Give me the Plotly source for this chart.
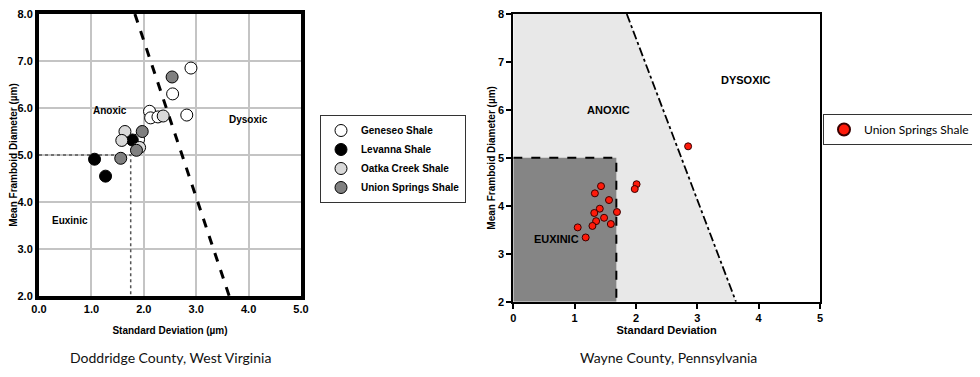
import plotly.graph_objects as go

# ---- Left chart data (Doddridge County, West Virginia) ----
geneseo_x = [2.90, 2.55, 2.11, 2.13, 2.27, 2.82, 1.90]
geneseo_y = [6.85, 6.30, 5.93, 5.79, 5.81, 5.85, 5.33]
levanna_x = [1.06, 1.27, 1.78]
levanna_y = [4.91, 4.55, 5.32]
oatka_x = [1.64, 1.58, 1.92, 2.37]
oatka_y = [5.50, 5.31, 5.16, 5.83]
union_l_x = [2.54, 1.97, 1.86, 1.56]
union_l_y = [6.66, 5.50, 5.10, 4.93]

# boundaries
boundary_x = [1.83, 3.63]
boundary_y = [8.0, 2.0]
euxinic_x = [1.75]
euxinic_y = [5.0]

# ---- Right chart data (Wayne County, Pennsylvania) ----
union_r_x = [2.85, 2.01, 1.98, 1.43, 1.33, 1.56, 1.41, 1.32, 1.69, 1.35, 1.48, 1.59, 1.29, 1.05, 1.18]
union_r_y = [5.24, 4.45, 4.35, 4.41, 4.26, 4.12, 3.94, 3.85, 3.87, 3.68, 3.75, 3.62, 3.58, 3.55, 3.34]
r_boundary_x = [1.85, 3.63]
r_boundary_y = [8.0, 2.0]
r_eux_x = 1.68
r_eux_y = 5.0

x_ticks_left = ["0.0", "1.0", "2.0", "3.0", "4.0", "5.0"]
y_ticks_left = ["2.0", "3.0", "4.0", "5.0", "6.0", "7.0", "8.0"]

W, H, OFF = 980, 377, 8  # the page places the figure 8px in from the corner


def px(x):
    return min(1.0, max(0.0, (x - OFF) / W))


def py(y):
    return min(1.0, max(0.0, 1 - (y - OFF) / H))


BOLD = dict(family="Liberation Sans, Arial, sans-serif", weight="bold", color="black")

fig = go.Figure()


def pts(x, y, name, color, legend):
    return go.Scatter(x=x, y=y, mode="markers", name=name,
                      marker=dict(size=12, color=color, line=dict(color="black", width=1)),
                      xaxis="x", yaxis="y", legend=legend)


# left boundary lines
fig.add_trace(go.Scatter(x=[0, euxinic_x[0], euxinic_x[0]], y=[euxinic_y[0], euxinic_y[0], 2.0],
                         mode="lines", line=dict(color="#555555", width=1.5, dash="dot"),
                         showlegend=False, hoverinfo="skip", xaxis="x", yaxis="y"))
fig.add_trace(go.Scatter(x=boundary_x, y=boundary_y, mode="lines",
                         line=dict(color="black", width=3, dash="dash"),
                         showlegend=False, hoverinfo="skip", xaxis="x", yaxis="y"))

fig.add_trace(pts(geneseo_x, geneseo_y, "Geneseo Shale", "white", "legend"))
fig.add_trace(pts(levanna_x, levanna_y, "Levanna Shale", "black", "legend"))
fig.add_trace(pts(oatka_x, oatka_y, "Oatka Creek Shale", "#d9d9d9", "legend"))
fig.add_trace(pts(union_l_x, union_l_y, "Union Springs Shale", "#808080", "legend"))

# right chart regions
fig.add_trace(go.Scatter(x=[0, 0, r_boundary_x[0], r_boundary_x[1], 0],
                         y=[2, 8, r_boundary_y[0], r_boundary_y[1], 2],
                         mode="lines", fill="toself", fillcolor="#e8e8e8",
                         line=dict(width=0), showlegend=False, hoverinfo="skip",
                         xaxis="x2", yaxis="y2"))
fig.add_trace(go.Scatter(x=[0, 0, r_eux_x, r_eux_x, 0], y=[2, r_eux_y, r_eux_y, 2, 2],
                         mode="lines", fill="toself", fillcolor="#858585",
                         line=dict(width=0), showlegend=False, hoverinfo="skip",
                         xaxis="x2", yaxis="y2"))
fig.add_trace(go.Scatter(x=[0, r_eux_x, r_eux_x], y=[r_eux_y, r_eux_y, 2],
                         mode="lines", line=dict(color="black", width=2, dash="dash"),
                         showlegend=False, hoverinfo="skip", xaxis="x2", yaxis="y2"))
fig.add_trace(go.Scatter(x=r_boundary_x, y=r_boundary_y, mode="lines",
                         line=dict(color="black", width=1.8, dash="dashdot"),
                         showlegend=False, hoverinfo="skip", xaxis="x2", yaxis="y2"))
fig.add_trace(go.Scatter(x=union_r_x, y=union_r_y, mode="markers", name="Union Springs Shale",
                         marker=dict(size=7, color="#ff1a0a", line=dict(color="#3a0000", width=1)),
                         xaxis="x2", yaxis="y2", legend="legend2"))

fig.update_layout(
    width=W, height=H, margin=dict(l=0, r=0, t=0, b=0, autoexpand=False),
    paper_bgcolor="white", plot_bgcolor="white",
    xaxis=dict(domain=[px(39), px(301)], range=[0, 5], tickvals=[0, 1, 2, 3, 4, 5],
               ticktext=x_ticks_left, showgrid=True, gridcolor="#c4c4c4", gridwidth=1.5,
               zeroline=False, showline=True, linecolor="black", linewidth=4, mirror=True,
               ticks="", tickfont=dict(size=11, **BOLD), automargin=False, ticklabeloverflow="allow",
               title=dict(text="Standard Deviation (µm)", font=dict(size=10, **BOLD), standoff=14)),
    yaxis=dict(domain=[py(296), py(14)], range=[2, 8], tickvals=[2, 3, 4, 5, 6, 7, 8],
               ticktext=y_ticks_left, showgrid=True, gridcolor="#c4c4c4", gridwidth=1.5,
               zeroline=False, showline=True, linecolor="black", linewidth=4, mirror=True,
               ticks="", tickfont=dict(size=11, **BOLD), automargin=False, ticklabeloverflow="allow",
               title=dict(text="Mean Framboid Diameter (µm)", font=dict(size=10, **BOLD), standoff=0)),
    xaxis2=dict(domain=[px(513.3), px(820)], range=[0, 5], dtick=1, anchor="y2",
                showgrid=False, zeroline=False, showline=True, linecolor="black", linewidth=2,
                mirror=True, ticks="outside", ticklen=5, tickwidth=2, tickcolor="black",
                tickfont=dict(size=11, **BOLD), automargin=False, ticklabeloverflow="allow",
                title=dict(text="Standard Deviation", font=dict(size=11, **BOLD), standoff=0)),
    yaxis2=dict(domain=[py(301.7), py(14)], range=[2, 8], dtick=1, anchor="x2",
                showgrid=False, zeroline=False, showline=True, linecolor="black", linewidth=2,
                mirror=True, ticks="outside", ticklen=5, tickwidth=2, tickcolor="black",
                tickfont=dict(size=11, **BOLD), automargin=False, ticklabeloverflow="allow",
                title=dict(text="Mean Framboid Diameter (µm)", font=dict(size=10, **BOLD), standoff=0)),
    legend=dict(x=px(320), y=py(115), xanchor="left", yanchor="top",
                bordercolor="#333333", borderwidth=1, bgcolor="white",
                font=dict(size=10, **BOLD), tracegroupgap=0, itemwidth=30),
    legend2=dict(x=px(823), y=py(114), xanchor="left", yanchor="top",
                 bordercolor="#333333", borderwidth=1, bgcolor="white",
                 font=dict(size=12, family="Lato, sans-serif", color="black"),
                 itemsizing="constant", itemwidth=30),
    showlegend=True,
)

ann = [
    dict(x=1.35, y=5.95, text="Anoxic", xref="x", yref="y", font=dict(size=10, **BOLD)),
    dict(x=4.0, y=5.75, text="Dysoxic", xref="x", yref="y", font=dict(size=10, **BOLD)),
    dict(x=0.59, y=3.6, text="Euxinic", xref="x", yref="y", font=dict(size=10, **BOLD)),
    dict(x=1.56, y=6.0, text="ANOXIC", xref="x2", yref="y2", font=dict(size=11, **BOLD)),
    dict(x=3.8, y=6.63, text="DYSOXIC", xref="x2", yref="y2", font=dict(size=11, **BOLD)),
    dict(x=0.7, y=3.3, text="EUXINIC", xref="x2", yref="y2", font=dict(size=11, **BOLD)),
    dict(x=px(170), y=py(357), text="Doddridge County, West Virginia", xref="paper", yref="paper",
         font=dict(size=14, family="Lato, sans-serif", color="#111111")),
    dict(x=px(668), y=py(357), text="Wayne County, Pennsylvania", xref="paper", yref="paper",
         font=dict(size=14, family="Lato, sans-serif", color="#111111")),
]
for a in ann:
    a.update(showarrow=False, xanchor="center", yanchor="middle")
fig.update_layout(annotations=ann)

fig.write_html("out.html")
